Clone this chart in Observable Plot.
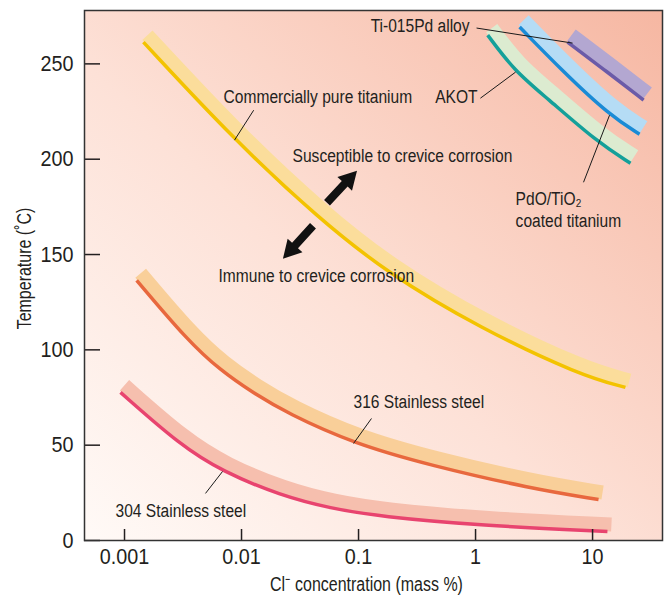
<!DOCTYPE html>
<html><head><meta charset="utf-8">
<script src="https://cdn.jsdelivr.net/npm/d3@7"></script>
<script src="https://cdn.jsdelivr.net/npm/@observablehq/plot@0.6"></script>
<style>
html,body{margin:0;padding:0;background:#fff;}
</style></head><body><div id="chart"></div>
<script>
// ---- data (Cl- concentration in mass %, temperature in °C) ----
const xTicks = [0.001, 0.01, 0.1, 1, 10];
const yTicks = [0, 50, 100, 150, 200, 250];

const ss304Conc = [0.000924, 0.00301, 0.00688, 0.0215, 0.0577, 0.154, 1.10, 13.4];
const ss304Temp = [77.7, 49.9, 36.2, 23.6, 16.8, 12.6, 7.9, 4.7];

const ss316Conc = [0.00127, 0.00345, 0.00661, 0.0127, 0.0247, 0.0906, 0.412, 2.95, 11.25];
const ss316Temp = [136.5, 105.0, 89.2, 77.2, 66.7, 50.9, 39.4, 27.3, 21.5];

const cpTiConc = [0.00145, 0.00871, 0.0455, 0.177, 1.10, 7.89, 19.1];
const cpTiTemp = [261.4, 210.0, 169.0, 140.2, 111.3, 86.6, 80.3];

const akotConc = [1.27, 2.16, 4.01, 11.0, 21.1];
const akotTemp = [265.1, 246.2, 232.5, 208.9, 197.9];

const pdoConc = [2.38, 5.65, 13.97, 25.2];
const pdoTemp = [269.3, 245.7, 223.1, 213.1];

const tipdConc = [6.11, 13.4, 27.3];
const tipdTemp = [261.4, 245.7, 231.0];

const seriesNames = ["304", "316", "cpTi", "akot", "pdo", "tipd"];
const seriesConc = [ss304Conc, ss316Conc, cpTiConc, akotConc, pdoConc, tipdConc];
const seriesTemp = [ss304Temp, ss316Temp, cpTiTemp, akotTemp, pdoTemp, tipdTemp];

// label anchors (data coords)
const labelsStart = [
  {x: 0.00702, y: 229.4, text: "Commercially pure titanium"},
  {x: 0.0273, y: 198.4, text: "Susceptible to crevice corrosion"},
  {x: 0.00636, y: 135.4, text: "Immune to crevice corrosion"},
  {x: 0.0906, y: 69.3, text: "316 Stainless steel"},
  {x: 0.000838, y: 12.1, text: "304 Stainless steel"},
  {x: 2.20, y: 164.3, text: "PdO/TiO\u2082\ncoated titanium"}
];
const labelsEnd = [
  {x: 0.889, y: 266.7, text: "Ti-015Pd alloy"},
  {x: 1.04, y: 229.4, text: "AKOT"}
];
const leaders = [
  {x1: 0.0127, y1: 225.7, x2: 0.00871, y2: 210.0},
  {x1: 0.129, y1: 64.0, x2: 0.0906, y2: 50.9},
  {x1: 0.00492, y1: 24.7, x2: 0.00688, y2: 36.2},
  {x1: 1.02, y1: 268.8, x2: 6.75, y2: 260.9},
  {x1: 1.10, y1: 232.0, x2: 2.20, y2: 245.7},
  {x1: 8.37, y1: 187.9, x2: 13.97, y2: 223.1}
];
const arrows = [
  {x1: 0.0543, y1: 176.9, x2: 0.098, y2: 193.7},
  {x1: 0.0412, y1: 164.8, x2: 0.0228, y2: 147.5}
];

// ---- styling ----
const FONT = "'Liberation Sans', Arial, Helvetica, sans-serif";
const lineColor = {"304": "#e8446f", "316": "#e8683e", cpTi: "#f3c300", akot: "#14a09a", pdo: "#1a8bd6", tipd: "#6b5ba8"};
const bandColor = {"304": "#f6bfae", "316": "#f9cf99", cpTi: "#fbdd9b", akot: "#dcebd0", pdo: "#b5dcf5", tipd: "#b3a7d1"};

const rows = seriesNames.flatMap((n, k) => seriesConc[k].map((c, i) => ({name: n, conc: c, temp: seriesTemp[k][i]})));

const curveMarks = seriesNames.flatMap(n => {
  const d = rows.filter(r => r.name === n);
  return [
    Plot.line(d, {x: "conc", y: "temp", stroke: bandColor[n], strokeWidth: 14, dx: 4, dy: -7, curve: "basis", strokeLinecap: "butt"}),
    Plot.line(d, {x: "conc", y: "temp", stroke: lineColor[n], strokeWidth: 3.5, curve: "basis", strokeLinecap: "butt"})
  ];
});

const arrowMark = (index, scales) => {
  const g = d3.create("svg:g");
  for (const a of arrows) {
    const sx = scales.x(a.x1), sy = scales.y(a.y1), tx = scales.x(a.x2), ty = scales.y(a.y2);
    const len = Math.hypot(tx - sx, ty - sy);
    const ux = (tx - sx) / len, uy = (ty - sy) / len;
    const nx = -uy, ny = ux;
    const w = 4, h = 10, L = 18;
    const bx = tx - ux * L, by = ty - uy * L;
    const pts = [
      [sx + nx * w, sy + ny * w], [bx + nx * w, by + ny * w], [bx + nx * h, by + ny * h],
      [tx, ty],
      [bx - nx * h, by - ny * h], [bx - nx * w, by - ny * w], [sx - nx * w, sy - ny * w]
    ];
    g.append("polygon").attr("points", pts.map(p => p.join(",")).join(" ")).attr("fill", "#111");
  }
  return g.node();
};

const chart = Plot.plot({
  width: 672,
  height: 596,
  marginTop: 10,
  marginBottom: 56,
  marginLeft: 84,
  marginRight: 10,
  style: {fontFamily: FONT, background: "#fff", color: "#231f20", overflow: "visible"},
  x: {type: "log", domain: [0.000455, 39.6]},
  y: {domain: [0, 278]},
  marks: [
    Plot.frame({fill: "url(#bgGrad)", stroke: null}),
    ...curveMarks,
    Plot.link(leaders, {x1: "x1", y1: "y1", x2: "x2", y2: "y2", stroke: "#1a1a1a", strokeWidth: 1}),
    Plot.text(labelsStart, {x: "x", y: "y", text: "text", textAnchor: "start", lineAnchor: "bottom", lineHeight: 1.16, fontSize: 19, fill: "#231f20"}),
    Plot.text(labelsEnd, {x: "x", y: "y", text: "text", textAnchor: "end", lineAnchor: "bottom", fontSize: 19, fill: "#231f20"}),
    arrowMark,
    Plot.axisX({ticks: xTicks, tickSize: -11, tickPadding: 19, tickFormat: d => String(d), fontSize: 22, label: null, strokeWidth: 1.5, color: "#231f20"}),
    Plot.axisY({ticks: yTicks, tickSize: -16, tickPadding: 27, fontSize: 22, label: null, strokeWidth: 1.5, color: "#231f20"}),
    Plot.text(["Temperature (\u02DAC)"], {text: d => d, frameAnchor: "left", textAnchor: "middle", lineAnchor: "middle", rotate: -90, dx: -60, dy: -7, fontSize: 19.5, fill: "#231f20"}),
    Plot.text(["Cl\u207B concentration (mass %)"], {text: d => d, frameAnchor: "bottom", textAnchor: "middle", lineAnchor: "bottom", dx: -7, dy: 50, fontSize: 19.5, fill: "#231f20"}),
    Plot.frame({stroke: "#333", strokeWidth: 1.5})
  ]
});

const defs = d3.select(chart).insert("defs", ":first-child");
const grad = defs.append("linearGradient").attr("id", "bgGrad").attr("x1", 0).attr("y1", 1).attr("x2", 1).attr("y2", 0);
grad.append("stop").attr("offset", "0%").attr("stop-color", "#fffaf7");
grad.append("stop").attr("offset", "45%").attr("stop-color", "#fde1d7");
grad.append("stop").attr("offset", "100%").attr("stop-color", "#f6b7a2");

// condensed look: compress text horizontally around its anchor
d3.select(chart).selectAll("text").each(function() {
  const g = this.closest("g[aria-label]");
  const isTick = g && /tick label/.test(g.getAttribute("aria-label") || "");
  const s = isTick ? 0.9 : 0.82;
  const t = this.getAttribute("transform");
  if (t) {
    this.setAttribute("transform", t + ` scale(${s},1)`);
  } else {
    const x = +this.getAttribute("x") || 0, y = +this.getAttribute("y") || 0;
    this.setAttribute("transform", `translate(${x},${y}) scale(${s},1) translate(${-x},${-y})`);
  }
});

document.getElementById("chart").appendChild(chart);
</script>
</body></html>
